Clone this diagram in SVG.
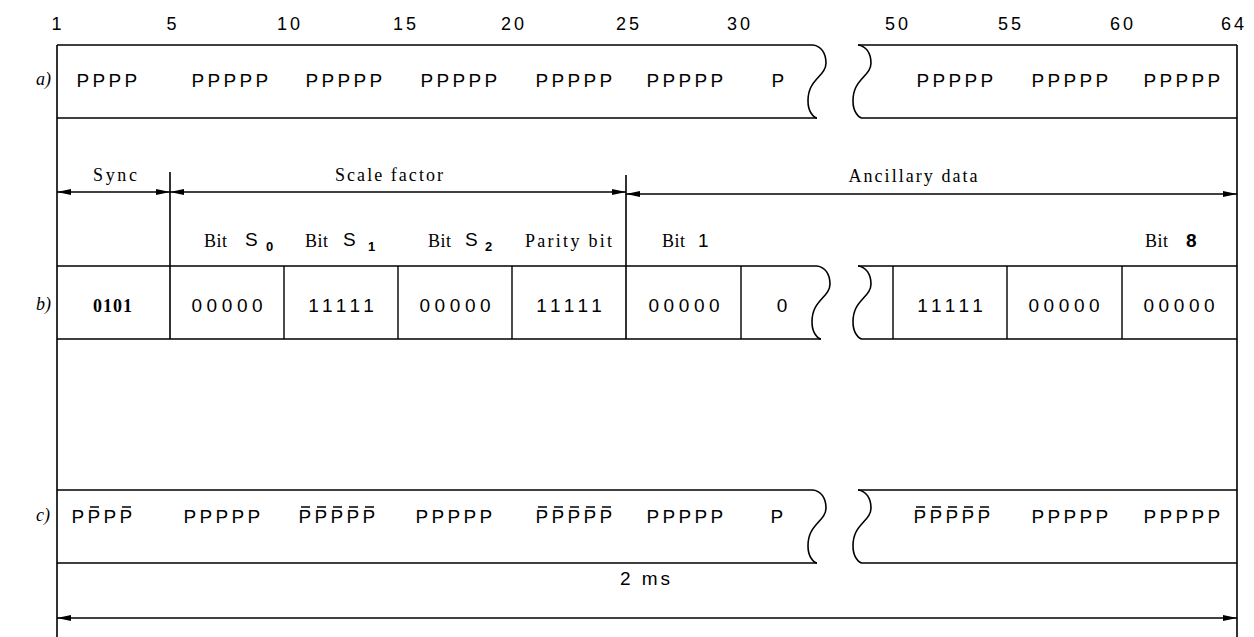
<svg xmlns="http://www.w3.org/2000/svg" xmlns:xlink="http://www.w3.org/1999/xlink" width="1254" height="637" viewBox="0 0 1254 637">
<style>
.ln{stroke:#000;stroke-width:1.6;fill:none}
.dv{stroke:#000;stroke-width:1.4;fill:none}
.sans{font-family:"Liberation Sans",Arial,sans-serif;font-size:19px;fill:#000}
.num{font-family:"Liberation Sans",Arial,sans-serif;font-size:18px;letter-spacing:3px;fill:#000;text-anchor:middle}
.pp{font-family:"Liberation Sans",Arial,sans-serif;font-size:19px;letter-spacing:3.3px;fill:#000}
.dg{font-family:"Liberation Sans",Arial,sans-serif;font-size:19px;letter-spacing:4.6px;fill:#000;text-anchor:middle}
.serif{font-family:"Liberation Serif","Times New Roman",serif;font-size:18px;fill:#000}
.row{font-family:"Liberation Serif","Times New Roman",serif;font-size:18px;font-style:italic;fill:#000}
.sub{font-family:"Liberation Sans",Arial,sans-serif;font-size:13px;font-weight:bold;fill:#000}
.ov{stroke:#000;stroke-width:1.5}
.arr{stroke:#000;stroke-width:1.6;fill:none;marker-start:url(#ah);marker-end:url(#ah)}
</style>
<defs>
<marker id="ah" viewBox="0 0 14 6" refX="14" refY="3" markerWidth="14" markerHeight="6" orient="auto-start-reverse" markerUnits="userSpaceOnUse"><path d="M0,0 L14,3 L0,6 Z" fill="#000"/></marker>
<path id="wave" d="M0,0 C8,1 13,8 13,18 C13,28 3,32 -2,42 C-6,50 -6,62 -2,68 C0,71 2,73 4,73" class="ln"/>
</defs>

<g id="scale">
<text class="num" x="58" y="30">1</text>
<text class="num" x="173" y="30">5</text>
<text class="num" x="290" y="30">10</text>
<text class="num" x="406" y="30">15</text>
<text class="num" x="514" y="30">20</text>
<text class="num" x="629" y="30">25</text>
<text class="num" x="740" y="30">30</text>
<text class="num" x="898" y="30">50</text>
<text class="num" x="1011" y="30">55</text>
<text class="num" x="1123" y="30">60</text>
<text class="num" x="1234" y="30">64</text>
</g>

<g id="frame">
<path class="ln" d="M57,45 V637 M1237,45 V637"/>
</g>

<g id="row-a">
<text class="row" x="36" y="85">a)</text>
<path class="ln" d="M57,45 H813 M57,118 H817"/>
<use xlink:href="#wave" href="#wave" x="813" y="45"/>
<path class="ln" d="M858,45 H1237 M862,118 H1237"/>
<use xlink:href="#wave" href="#wave" x="858" y="45"/>
<text class="pp" x="76.5" y="87">PPPP</text>
<text class="pp" x="191.5" y="87">PPPPP</text>
<text class="pp" x="305.5" y="87">PPPPP</text>
<text class="pp" x="420.5" y="87">PPPPP</text>
<text class="pp" x="535.5" y="87">PPPPP</text>
<text class="pp" x="646.5" y="87">PPPPP</text>
<text class="pp" x="771.5" y="87">P</text>
<text class="pp" x="916.5" y="87">PPPPP</text>
<text class="pp" x="1031.5" y="87">PPPPP</text>
<text class="pp" x="1143.5" y="87">PPPPP</text>
</g>

<g id="fields">
<text class="serif" x="115" y="181" text-anchor="middle" textLength="44" lengthAdjust="spacing">Sync</text>
<text class="serif" x="389" y="181" text-anchor="middle" textLength="108" lengthAdjust="spacing">Scale factor</text>
<text class="serif" x="913" y="182" text-anchor="middle" textLength="129" lengthAdjust="spacing">Ancillary data</text>
<text class="serif" x="204" y="247" textLength="23" lengthAdjust="spacing">Bit</text>
<text class="sans" x="245" y="246">S</text><text class="sub" x="266" y="251">0</text>
<text class="serif" x="305" y="247" textLength="23" lengthAdjust="spacing">Bit</text>
<text class="sans" x="343" y="246">S</text><text class="sub" x="368" y="251">1</text>
<text class="serif" x="428" y="247" textLength="23" lengthAdjust="spacing">Bit</text>
<text class="sans" x="465" y="246">S</text><text class="sub" x="485" y="251">2</text>
<text class="serif" x="525" y="247" textLength="87" lengthAdjust="spacing">Parity bit</text>
<text class="serif" x="662" y="247" textLength="23" lengthAdjust="spacing">Bit</text>
<text class="sans" x="698" y="247">1</text>
<text class="serif" x="1145" y="247" textLength="23" lengthAdjust="spacing">Bit</text>
<text class="sans" x="1186" y="247" font-weight="bold">8</text>
</g>

<g id="row-b">
<text class="row" x="36" y="310">b)</text>
<path class="ln" d="M57,266 H817 M57,339 H821"/>
<use xlink:href="#wave" href="#wave" x="817" y="266"/>
<path class="ln" d="M858,266 H1237 M862,339 H1237"/>
<use xlink:href="#wave" href="#wave" x="858" y="266"/>
<path class="dv" d="M284,266 V339 M398,266 V339 M512,266 V339 M741,266 V339 M893,266 V339 M1007,266 V339 M1122,266 V339"/>
<text class="serif" x="113" y="312" text-anchor="middle" font-size="19" font-weight="bold" letter-spacing="1">0101</text>
<text class="dg" x="229.3" y="312">00000</text>
<text class="dg" x="343.3" y="312">11111</text>
<text class="dg" x="457.3" y="312">00000</text>
<text class="dg" x="571.3" y="312">11111</text>
<text class="dg" x="686.3" y="312">00000</text>
<text class="dg" x="784.3" y="312">0</text>
<text class="dg" x="952.3" y="312">11111</text>
<text class="dg" x="1066.3" y="312">00000</text>
<text class="dg" x="1181.3" y="312">00000</text>
</g>

<g id="row-c">
<text class="row" x="36" y="521">c)</text>
<path class="ln" d="M57,490 H813 M57,563 H817"/>
<use xlink:href="#wave" href="#wave" x="813" y="490"/>
<path class="ln" d="M858,490 H1237 M862,563 H1237"/>
<use xlink:href="#wave" href="#wave" x="858" y="490"/>
<text class="pp" x="71.5" y="523">PPPP</text>
<text class="pp" x="183.5" y="523">PPPPP</text>
<text class="pp" x="298.5" y="523">PPPPP</text>
<text class="pp" x="415.5" y="523">PPPPP</text>
<text class="pp" x="535.5" y="523">PPPPP</text>
<text class="pp" x="646.5" y="523">PPPPP</text>
<text class="pp" x="770.5" y="523">P</text>
<text class="pp" x="913.5" y="523">PPPPP</text>
<text class="pp" x="1031.5" y="523">PPPPP</text>
<text class="pp" x="1143.5" y="523">PPPPP</text>
<path class="ov" d="M90,507 H99 M122,507 H131 M301,507 H310 M317,507 H326 M333,507 H342 M349,507 H358 M365,507 H374 M538,507 H547 M554,507 H563 M570,507 H579 M586,507 H595 M602,507 H611 M916,507 H925 M932,507 H941 M948,507 H957 M964,507 H973 M980,507 H989"/>
</g>

<g id="connectors">
<line class="arr" x1="57" y1="192" x2="170" y2="192"/>
<line class="arr" x1="170" y1="192" x2="626" y2="192"/>
<line class="arr" x1="626" y1="194" x2="1237" y2="194"/>
<line class="arr" x1="57" y1="618" x2="1237" y2="618"/>
<path class="ln" d="M170,172 V339 M626,175 V339"/>
</g>

<g id="duration">
<text class="sans" x="646.5" y="585" text-anchor="middle" letter-spacing="3">2 ms</text>
</g>
</svg>
